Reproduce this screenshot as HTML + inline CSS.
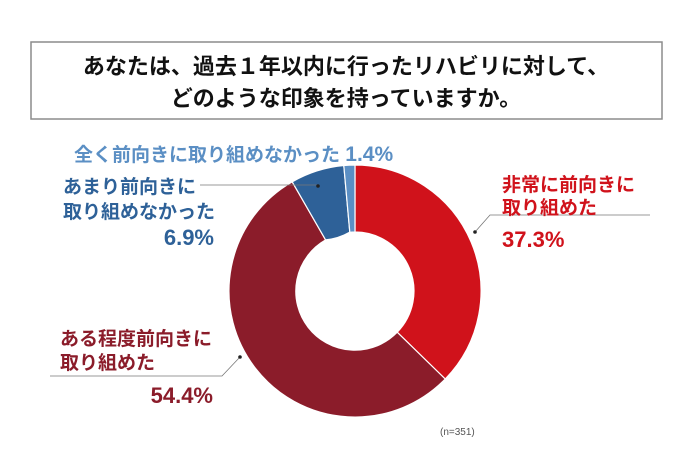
<!DOCTYPE html>
<html><head><meta charset="utf-8"><style>
body{margin:0;width:690px;height:457px;background:#fff;overflow:hidden;font-family:"Liberation Sans","Noto Sans CJK JP",sans-serif;}
</style></head><body>
<svg width="690" height="457" xmlns="http://www.w3.org/2000/svg" style="position:absolute;left:0;top:0">
<rect x="31" y="42" width="631" height="77" fill="#fff" stroke="#8c8c8c" stroke-width="1.5"/>
<g font-family="Liberation Sans,Noto Sans CJK JP,sans-serif" font-weight="bold">
<text x="346" y="74" font-size="22" text-anchor="middle" fill="#111">あなたは、過去１年以内に行ったリハビリに対して、</text>
<text x="346" y="106" font-size="22" text-anchor="middle" fill="#111">どのような印象を持っていますか。</text>
</g>
<g stroke="#fff" stroke-width="1.2">
<path d="M355,165 A126,126 0 0 1 445.2,379 L397.2,332.2 A59,59 0 0 0 355,232 Z" fill="#d0121b"/>
<path d="M445.2,379 A126,126 0 1 1 292.2,181.8 L325.6,239.9 A59,59 0 1 0 397.2,332.2 Z" fill="#8b1c2a"/>
<path d="M292.2,181.8 A126,126 0 0 1 343.8,165.5 L349.8,232.2 A59,59 0 0 1 325.6,239.9 Z" fill="#2e6198"/>
<path d="M343.8,165.5 A126,126 0 0 1 355,165 L355,232 A59,59 0 0 1 349.8,232.2 Z" fill="#5b8fc4"/>
</g>
<g stroke="#777" stroke-width="0.8" fill="none">
<polyline points="200,185 318,185"/>
<polyline points="475,232 490,215 650,215"/>
<polyline points="50,376 222,376 240,357"/>
</g>
<circle cx="318" cy="186" r="1.8" fill="#222"/>
<circle cx="475" cy="232" r="1.8" fill="#222"/>
<circle cx="240" cy="357" r="1.8" fill="#222"/>
<g font-family="Liberation Sans,Noto Sans CJK JP,sans-serif" font-weight="bold" font-size="19">
<text x="74" y="161" fill="#5b8fc4">全く前向きに取り組めなかった <tspan font-size="21">1.4%</tspan></text>
<text x="63" y="193" fill="#2e6198">あまり前向きに</text>
<text x="63" y="218" fill="#2e6198">取り組めなかった</text>
<text x="214" y="245" fill="#2e6198" font-size="22" text-anchor="end">6.9%</text>
<text x="502" y="191" fill="#d0121b">非常に前向きに</text>
<text x="502" y="214" fill="#d0121b">取り組めた</text>
<text x="502" y="247" fill="#d0121b" font-size="22">37.3%</text>
<text x="60" y="345" fill="#8b1c2a">ある程度前向きに</text>
<text x="60" y="369" fill="#8b1c2a">取り組めた</text>
<text x="213" y="403" fill="#8b1c2a" font-size="22" text-anchor="end">54.4%</text>
</g>
<text x="440" y="435" font-family="Liberation Sans,sans-serif" font-size="10" fill="#555">(n=351)</text>
</svg>
</body></html>
